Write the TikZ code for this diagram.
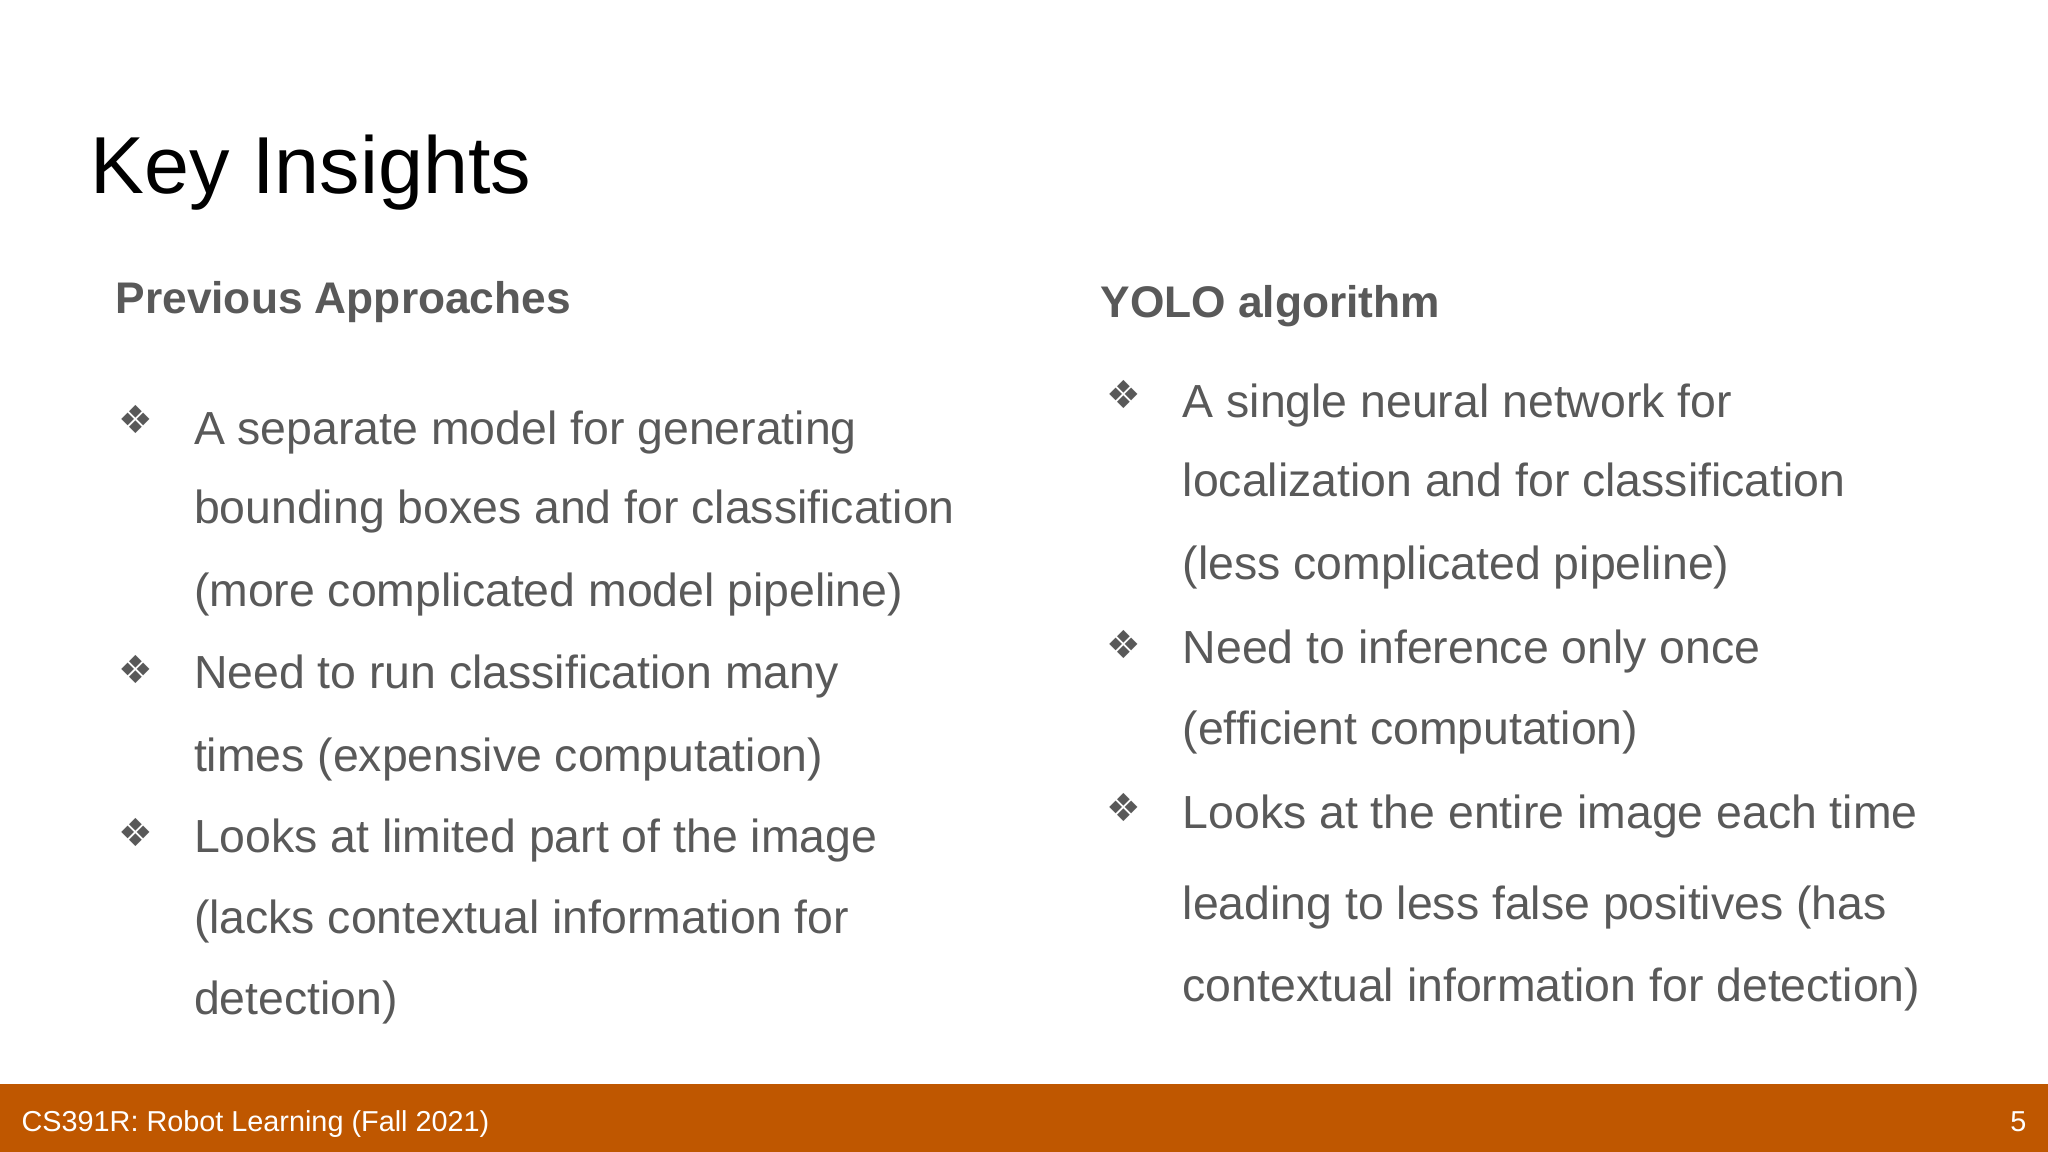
\documentclass[tikz,border=0pt]{standalone}
\usepackage{fontspec}
\setmainfont{Liberation Sans}
\newfontfamily\symfont{DejaVu Sans}
\definecolor{txtgray}{HTML}{595959}
\definecolor{burnt}{HTML}{BF5700}

\begin{document}
\begin{tikzpicture}[x=0.01306cm, y=-0.01306cm]
\tikzstyle{line}=[anchor=base west, inner sep=0pt, text=txtgray, font=\fontsize{13.2pt}{15pt}\selectfont]
\tikzstyle{head}=[anchor=base west, inner sep=0pt, text=txtgray, font=\fontsize{12.6pt}{15pt}\selectfont\bfseries]
\tikzstyle{bul}=[anchor=base west, inner sep=0pt, text=txtgray, font=\fontsize{11pt}{13pt}\symfont]
\fill[white] (0,0) rectangle (1568,882);
\fill[burnt] (0,830) rectangle (1568,882);
\node[anchor=base west, inner sep=0pt, font=\fontsize{23pt}{26pt}\selectfont] (title) at (69,148) {Key Insights};
% left column
\node[head] (lhead) at (88,240) {Previous Approaches};
\node[bul] (lb1) at (90,332) {❖};
\node[line] (l1) at (148,340) {A separate model for generating};
\node[line] (l2) at (148,401) {bounding boxes and for classification};
\node[line] (l3) at (148,464) {(more complicated model pipeline)};
\node[bul] (lb2) at (90,523) {❖};
\node[line] (l4) at (148,527) {Need to run classification many};
\node[line] (l5) at (148,591) {times (expensive computation)};
\node[bul] (lb3) at (90,648) {❖};
\node[line] (l6) at (148,653) {Looks at limited part of the image};
\node[line] (l7) at (148,715) {(lacks contextual information for};
\node[line] (l8) at (148,777) {detection)};
% right column
\node[head] (rhead) at (842,243) {YOLO algorithm};
\node[bul] (rb1) at (847,313) {❖};
\node[line] (r1) at (905,320) {A single neural network for};
\node[line] (r2) at (905,380) {localization and for classification};
\node[line] (r3) at (905,444) {(less complicated pipeline)};
\node[bul] (rb2) at (847,504) {❖};
\node[line] (r4) at (905,508) {Need to inference only once};
\node[line] (r5) at (905,570) {(efficient computation)};
\node[bul] (rb3) at (847,629) {❖};
\node[line] (r6) at (905,634) {Looks at the entire image each time};
\node[line] (r7) at (905,704) {leading to less false positives (has};
\node[line] (r8) at (905,767) {contextual information for detection)};
% footer
\node[anchor=base west, inner sep=0pt, text=white, font=\fontsize{8.2pt}{10pt}\selectfont] (foot) at (16,866) {CS391R: Robot Learning (Fall 2021)};
\node[anchor=base east, inner sep=0pt, text=white, font=\fontsize{8.2pt}{10pt}\selectfont] (page) at (1552,866) {5};
\end{tikzpicture}
\end{document}
